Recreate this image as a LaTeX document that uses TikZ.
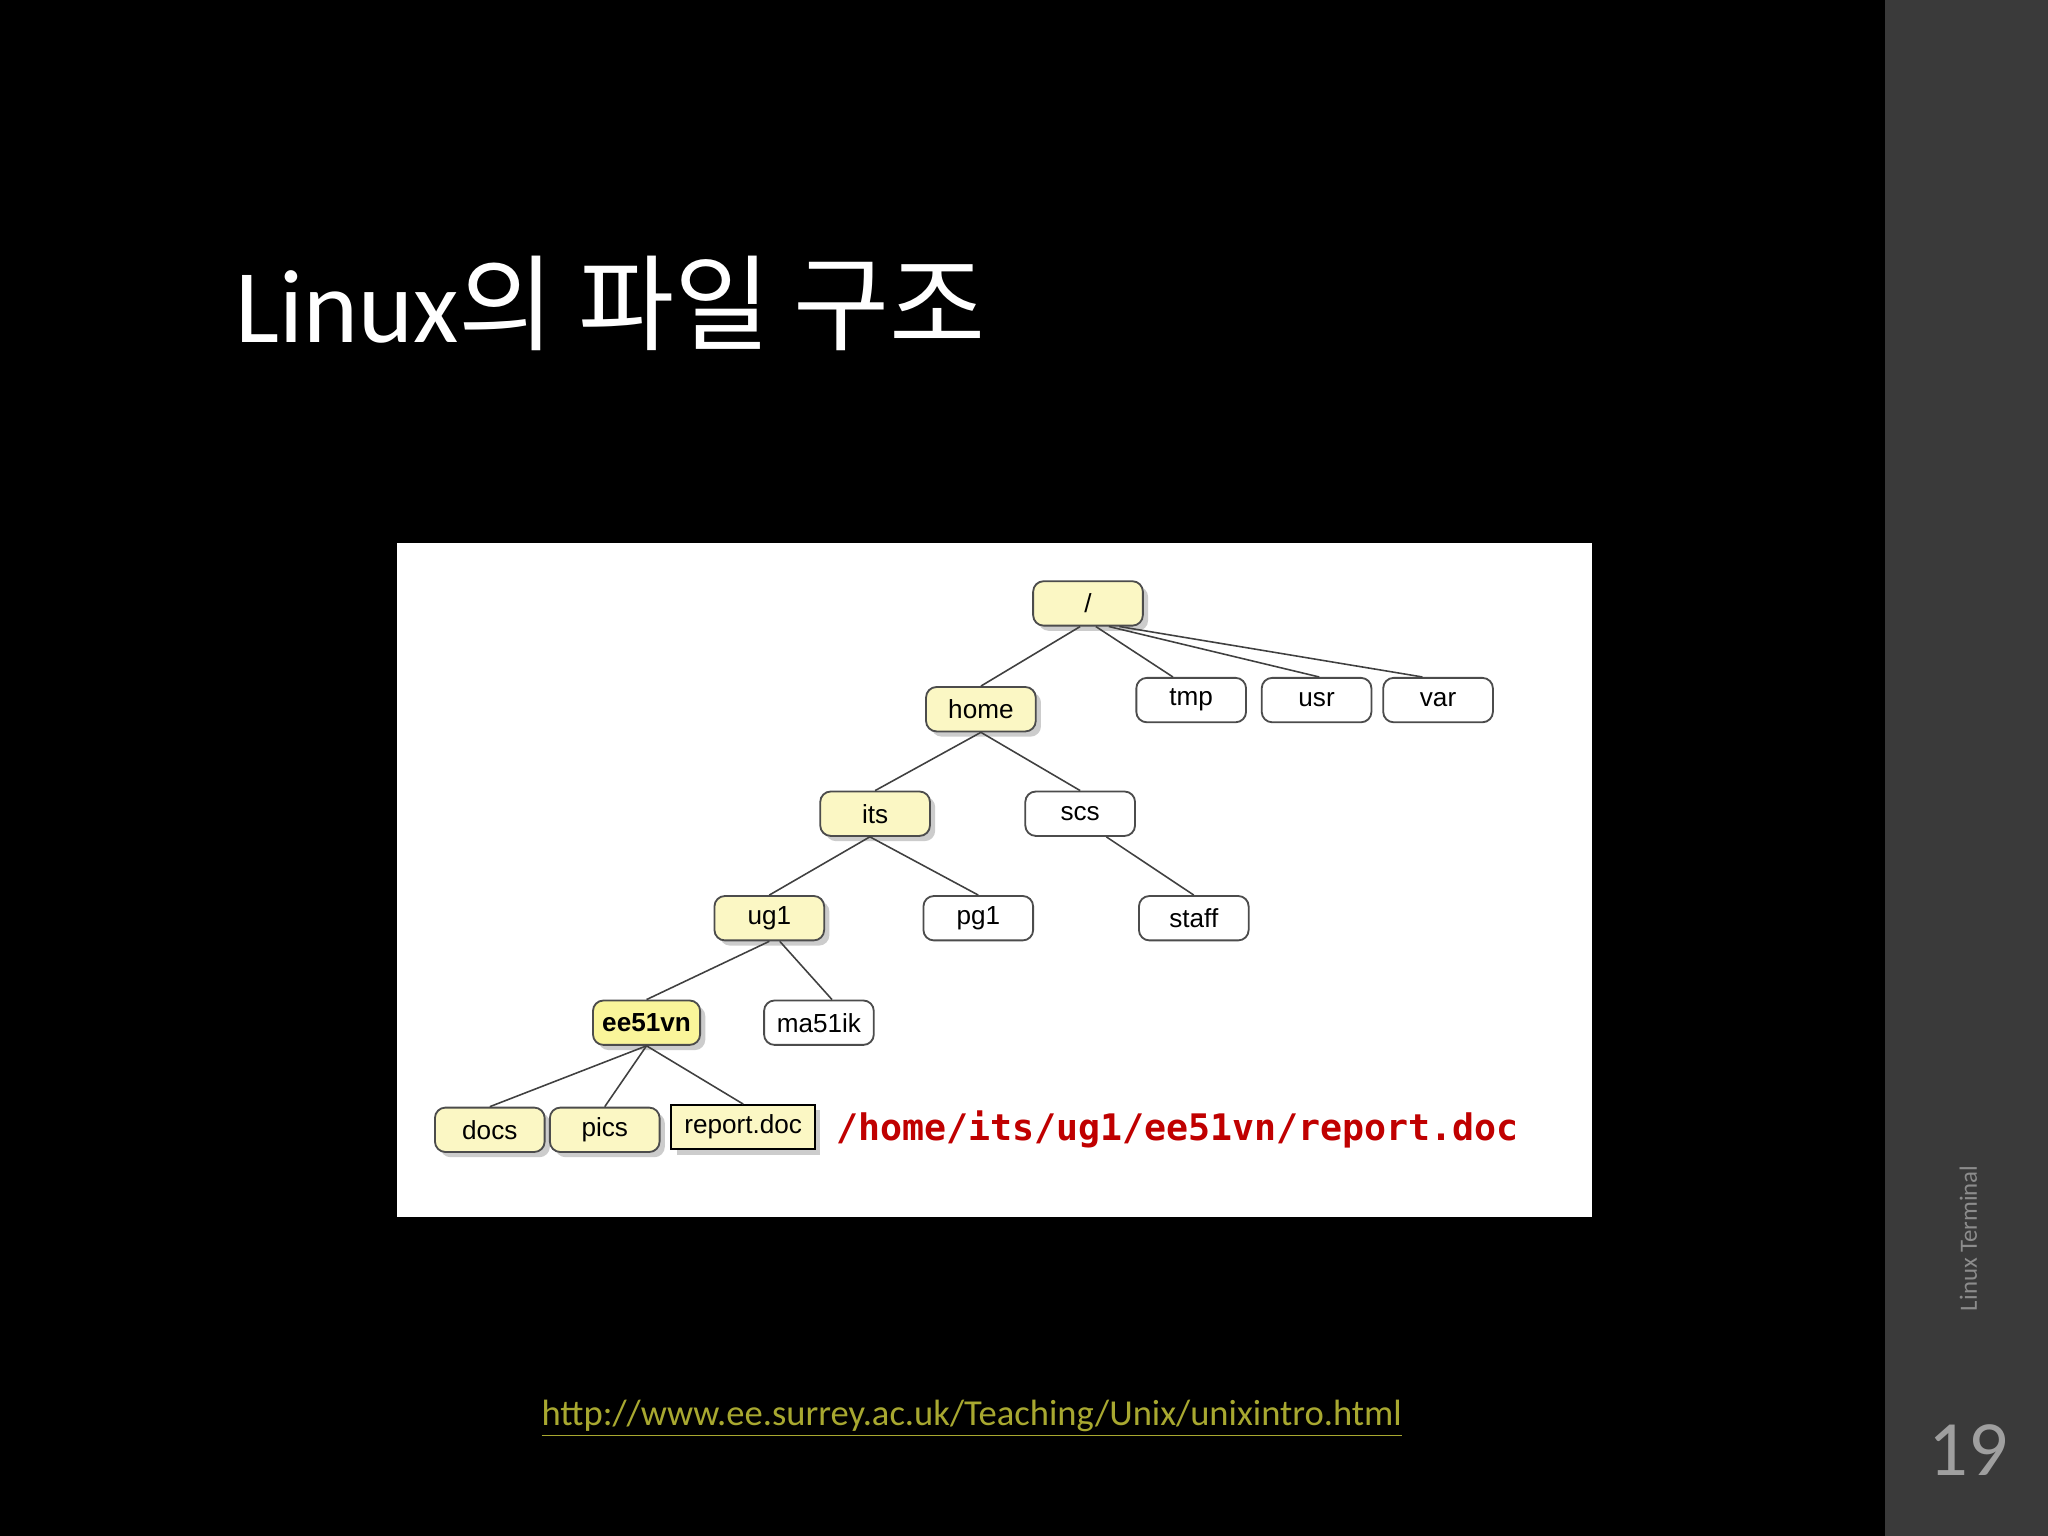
\documentclass[tikz,border=0pt]{standalone}
\usepackage{fontspec}
\setmainfont{Carlito}
\newfontfamily\kr{Noto Sans CJK KR}
\newfontfamily\arialf{Liberation Sans}
\newfontfamily\monof{DejaVu Sans Mono}
\usetikzlibrary{shadows}
\definecolor{nodey}{HTML}{FBF7C4}
\definecolor{nodeyy}{HTML}{FAF59A}
\definecolor{pathred}{HTML}{C00000}
\definecolor{urlc}{HTML}{A8A830}
\definecolor{panel}{HTML}{3A3A3A}
\begin{document}
\begin{tikzpicture}[x=0.5pt,y=-0.5pt,
  dnode/.style={draw=black!70,line width=0.7pt,rounded corners=4pt,minimum width=42pt,minimum height=17pt,inner sep=0pt,font=\arialf\fontsize{10}{12}\selectfont},
  ynode/.style={dnode,fill=nodey,drop shadow={shadow xshift=2pt,shadow yshift=-2pt,opacity=0.4}},
  wnode/.style={dnode,fill=white},
  edge/.style={draw=black!75,line width=0.6pt}]
\fill[black] (0,0) rectangle (1568,1176);
\fill[panel] (1443,0) rectangle (1568,1176);
\node[anchor=base west,text=white,font=\fontsize{40}{48}\selectfont,inner sep=0pt] (title) at (180,262) {Linux{\kr 의 파일 구조}};
\fill[white] (304,416) rectangle (1219,932);
\node[ynode] (root) at (833,462) {/};
\node[ynode] (home) at (751,543) {home};
\node[wnode] (tmp) at (912,536) {tmp};
\node[wnode] (usr) at (1008,536) {usr};
\node[wnode] (var) at (1101,536) {var};
\node[ynode] (its) at (670,623) {its};
\node[wnode] (scs) at (827,623) {scs};
\node[ynode] (ug1) at (589,703) {ug1};
\node[wnode] (pg1) at (749,703) {pg1};
\node[wnode] (staff) at (914,703) {staff};
\node[ynode,fill=nodeyy,minimum width=41pt,font=\arialf\bfseries\fontsize{10}{12}\selectfont] (ee) at (495,783) {ee51vn};
\node[wnode] (ma) at (627,783) {ma51ik};
\node[ynode] (docs) at (375,865) {docs};
\node[ynode] (pics) at (463,865) {pics};
\node[ynode,rounded corners=0pt,minimum width=55pt,draw=black] (rep) at (569,863) {report.doc};
\draw[edge] ([xshift=-3pt]root.south) -- (home.north);
\draw[edge] ([xshift=3pt]root.south) -- ([xshift=-7pt]tmp.north);
\draw[edge] ([xshift=8pt]root.south) -- ([xshift=1pt]usr.north);
\draw[edge] ([xshift=12pt]root.south) -- ([xshift=-6pt]var.north);
\draw[edge] (home.south) -- (its.north);
\draw[edge] (home.south) -- (scs.north);
\draw[edge] ([xshift=-2pt]its.south) -- (ug1.north);
\draw[edge] ([xshift=-2pt]its.south) -- (pg1.north);
\draw[edge] ([xshift=10pt]scs.south) -- (staff.north);
\draw[edge] (ug1.south) -- (ee.north);
\draw[edge] ([xshift=4pt]ug1.south) -- ([xshift=5pt]ma.north);
\draw[edge] (ee.south) -- (docs.north);
\draw[edge] (ee.south) -- (pics.north);
\draw[edge] (ee.south) -- (rep.north);
\node[anchor=west,text=pathred,font=\monof\bfseries\fontsize{14}{16}\selectfont,inner sep=0pt] (path) at (640,865) {/home/its/ug1/ee51vn/report.doc};
\node[text=urlc,font=\fontsize{14}{16}\selectfont,inner sep=0pt] (url) at (744,1086) {\underline{http://www.ee.surrey.ac.uk/Teaching/Unix/unixintro.html}};
\node[rotate=90,text=gray!90,font=\fontsize{9.5}{11}\selectfont,inner sep=0pt] (side) at (1507,948) {Linux Terminal};
\node[text=gray!75,font=\fontsize{30}{36}\selectfont,inner sep=0pt] (num) at (1507,1110) {19};
\end{tikzpicture}
\end{document}
